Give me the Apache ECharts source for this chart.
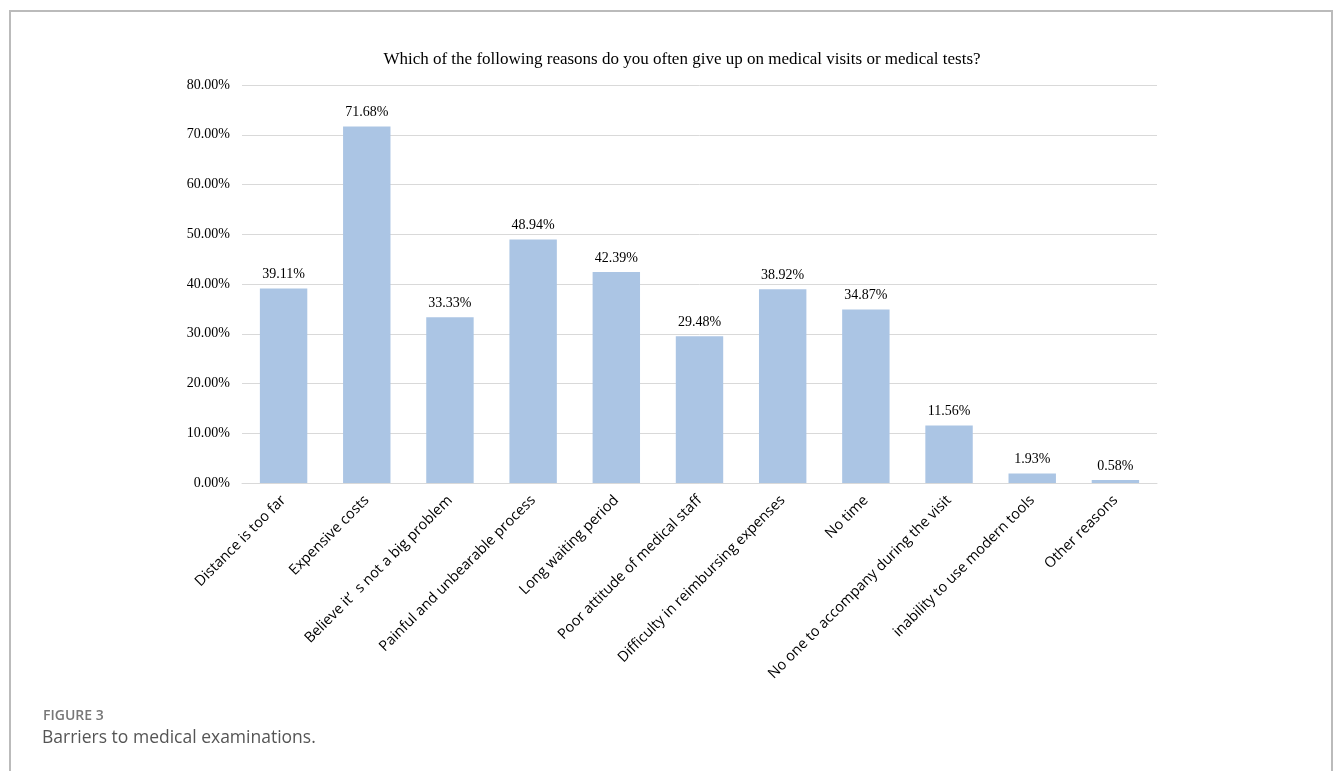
<!DOCTYPE html>
<html>
<head>
<meta charset="utf-8">
<script src="https://cdn.jsdelivr.net/npm/echarts@6/dist/echarts.min.js"></script>
<style>html,body{margin:0;padding:0;background:#fff;}#c{width:1333px;height:771px;}</style>
</head>
<body>
<div id="c"></div>
<script>
const categories = [
  "Distance is too far",
  "Expensive costs",
  "Believe it\u2019  s not a big problem",
  "Painful and unbearable process",
  "Long waiting period",
  "Poor attitude of medical staff",
  "Difficulty in reimbursing expenses",
  "No time",
  "No one to accompany during the visit",
  "inability to use modern tools",
  "Other reasons"
];
const values = [39.11, 71.68, 33.33, 48.94, 42.39, 29.48, 38.92, 34.87, 11.56, 1.93, 0.58];
const chartTitle = "Which of the following reasons do you often give up on medical visits or medical tests?";
const figureLabel = "FIGURE 3";
const figureCaption = "Barriers to medical examinations.";

const chart = echarts.init(document.getElementById('c'));
chart.setOption({
  animation: false,
  backgroundColor: '#fff',
  title: {
    text: chartTitle,
    left: 677, top: 46, textAlign: 'center',
    textStyle: { fontFamily: 'Liberation Serif', fontSize: 17, fontWeight: 'normal', color: '#000' }
  },
  grid: { left: 242, right: 176, top: 85, bottom: 288, containLabel: false },
  xAxis: {
    type: 'category',
    data: categories,
    axisLine: { lineStyle: { color: '#d9d9d9', width: 1 } },
    axisTick: { show: false },
    axisLabel: {
      rotate: 45, interval: 0, margin: 15,
      fontFamily: 'Open Sans', fontSize: 14.5, color: '#000'
    }
  },
  yAxis: {
    type: 'value', min: 0, max: 80, interval: 10,
    axisLine: { show: false }, axisTick: { show: false },
    splitLine: { lineStyle: { color: '#d9d9d9', width: 1 } },
    axisLabel: {
      formatter: v => v.toFixed(2) + '%', margin: 12,
      fontFamily: 'Liberation Serif', fontSize: 14, color: '#000'
    }
  },
  series: [{
    type: 'bar',
    data: values,
    barCategoryGap: '43%',
    itemStyle: { color: '#abc5e4' },
    label: {
      show: true, position: 'top', distance: 7,
      formatter: p => p.value.toFixed(2) + '%',
      fontFamily: 'Liberation Serif', fontSize: 14, color: '#000'
    }
  }],
  graphic: [
    { type: 'rect', shape: { x: 10, y: 11, width: 1322, height: 800 }, style: { fill: 'none', stroke: '#bbbbbb', lineWidth: 2 }, silent: true },
    { type: 'text', left: 43, top: 709, style: { text: figureLabel, fontFamily: 'Open Sans', fontSize: 14, fontWeight: 600, fill: '#777' } },
    { type: 'text', left: 42, top: 729, style: { text: figureCaption, fontFamily: 'Open Sans', fontSize: 17.5, fill: '#555' } }
  ]
});
</script>
</body>
</html>
